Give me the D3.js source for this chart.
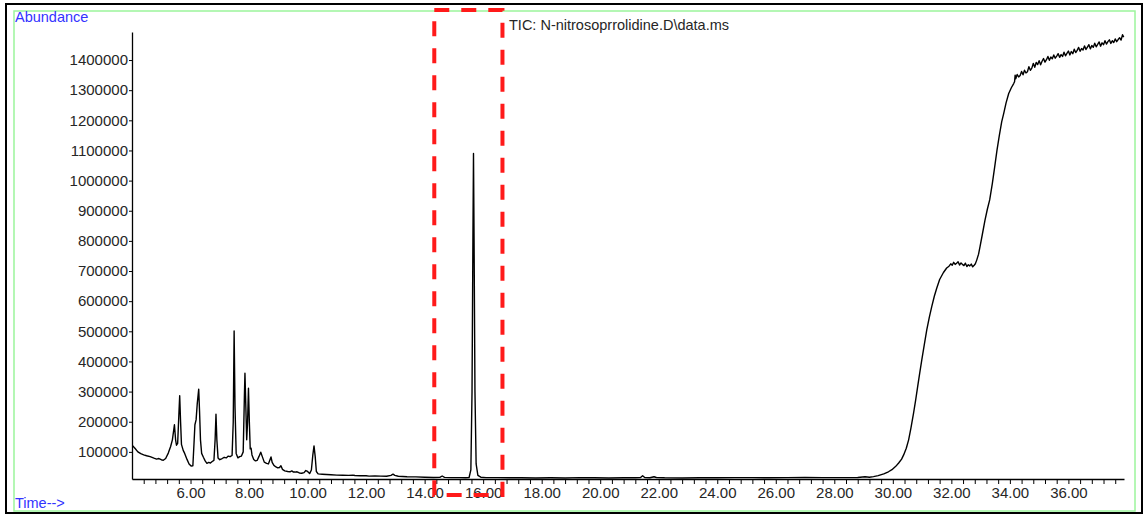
<!DOCTYPE html>
<html>
<head>
<meta charset="utf-8">
<script src="https://cdn.jsdelivr.net/npm/d3@7"></script>
<style>
  body { margin: 0; background: #fff; }
  svg text { font-family: "Liberation Sans", Arial, sans-serif; }
</style>
</head>
<body>
<div class="g-chart-container"></div>
<script>
// retention time (min) and abundance, up to the column bleed plateau
var times = [
  4.02, 4.10, 4.20, 4.30, 4.40, 4.50, 4.62, 4.75, 4.84, 4.92, 5.00, 5.07, 5.15, 5.24, 5.32, 5.38, 5.45, 5.49,
  5.52, 5.56, 5.60, 5.63, 5.66, 5.69, 5.75, 5.80, 5.88, 5.95, 6.02, 6.08, 6.12, 6.15, 6.19, 6.23, 6.28, 6.31,
  6.34, 6.38, 6.44, 6.50, 6.56, 6.62, 6.68, 6.74, 6.80, 6.84, 6.87, 6.90, 6.94, 7.00, 7.08, 7.15, 7.22, 7.29,
  7.35, 7.42, 7.46, 7.49, 7.52, 7.56, 7.62, 7.68, 7.74, 7.80, 7.84, 7.86, 7.89, 7.92, 7.95, 7.98, 8.01, 8.04,
  8.07, 8.10, 8.16, 8.22, 8.28, 8.34, 8.40, 8.45, 8.52, 8.60, 8.66, 8.70, 8.75, 8.79, 8.85, 8.92, 8.98, 9.04,
  9.09, 9.14, 9.22, 9.32, 9.40, 9.46, 9.52, 9.58, 9.64, 9.72, 9.80, 9.88, 9.94, 10.00, 10.07, 10.13, 10.18, 10.22,
  10.26, 10.30, 10.36, 10.50, 10.65, 10.80, 11.00, 11.20, 11.40, 11.55, 11.62, 11.80, 12.00, 12.10, 12.30, 12.50, 12.70, 12.85,
  12.92, 12.98, 13.10, 13.40, 13.70, 14.00, 14.30, 14.52, 14.60, 14.68, 14.90, 15.20, 15.40, 15.52, 15.58, 15.62, 15.65, 15.67,
  15.69, 15.72, 15.76, 15.82, 15.92, 16.10, 16.50, 16.90, 17.30, 17.80, 18.30, 18.80, 19.30, 19.80, 20.30, 20.80, 21.20, 21.38,
  21.45, 21.52, 21.70, 21.84, 21.92, 22.20, 22.80, 23.40, 24.00, 24.60, 25.20, 25.80, 26.40, 27.00, 27.60, 28.20, 28.80, 29.05,
  29.20, 29.34, 29.50, 29.69, 29.85, 29.97, 30.10, 30.20, 30.30, 30.37, 30.46, 30.54, 30.62, 30.71, 30.78, 30.85, 30.92, 30.99,
  31.08, 31.16, 31.25, 31.33, 31.42, 31.50, 31.60, 31.73, 31.84, 31.92, 31.98, 32.03, 32.08, 32.13, 32.18, 32.23, 32.28, 32.33,
  32.38, 32.43, 32.48, 32.53, 32.58, 32.63, 32.68, 32.73, 32.78, 32.82, 32.87, 32.93, 32.98, 33.06, 33.15, 33.23, 33.31, 33.40,
  33.48, 33.56, 33.64, 33.72, 33.79, 33.87, 33.96, 34.05, 34.13, 34.16, 34.18
];
var abundance = [
  120000, 112000, 100000, 94000, 90000, 87000, 84000, 79000, 76000, 78000, 74000, 72000, 78000, 96000, 118000, 140000, 190000, 140000,
  122000, 128000, 220000, 286000, 200000, 125000, 105000, 95000, 75000, 60000, 53000, 54000, 130000, 190000, 206000, 260000, 308000, 230000,
  140000, 95000, 82000, 70000, 62000, 65000, 63000, 68000, 72000, 140000, 225000, 140000, 80000, 74000, 78000, 82000, 80000, 86000,
  84000, 88000, 200000, 501000, 250000, 95000, 80000, 84000, 86000, 100000, 280000, 361000, 250000, 140000, 200000, 311000, 200000, 110000,
  112000, 90000, 75000, 70000, 72000, 85000, 99000, 85000, 66000, 62000, 60000, 70000, 83000, 65000, 55000, 50000, 47000, 48000,
  54000, 42000, 37000, 35000, 34000, 37000, 33000, 33000, 34000, 30000, 29000, 31000, 38000, 35000, 28000, 40000, 90000, 120000,
  85000, 35000, 27000, 26000, 25000, 24000, 23000, 22500, 22000, 23000, 21500, 21000, 21000, 19500, 20000, 19500, 19000, 22000,
  26000, 22000, 19000, 17500, 17000, 16000, 15000, 15500, 20000, 15500, 14500, 14500, 14000, 15000, 40000, 300000, 800000, 1090000,
  800000, 300000, 60000, 22000, 16000, 14500, 14500, 14000, 14000, 13500, 14000, 13500, 14500, 14000, 13500, 14000, 14000, 15000,
  21000, 15000, 14000, 17500, 15000, 14000, 13500, 14000, 14000, 14500, 14500, 14000, 14500, 15000, 14500, 14500, 15000, 17500,
  16000, 18000, 21000, 27000, 34000, 41000, 52000, 63000, 76000, 90000, 112000, 140000, 180000, 229000, 272000, 317000, 362000, 405000,
  458000, 505000, 548000, 582000, 617000, 643000, 672000, 695000, 710000, 716000, 724000, 719000, 729000, 722000, 726000, 731000, 720000, 727000,
  722000, 718000, 726000, 715000, 721000, 717000, 723000, 714000, 719000, 724000, 737000, 756000, 781000, 822000, 869000, 905000, 936000, 990000,
  1045000, 1101000, 1150000, 1195000, 1223000, 1258000, 1289000, 1308000, 1322000, 1328000, 1350000
];
// noisy high-temperature tail after the kink at 34.2 min
var tailTimes = [
  34.20, 34.25, 34.30, 34.35, 34.40, 34.45, 34.50, 34.55, 34.60, 34.65, 34.70, 34.75, 34.80, 34.85, 34.90,
  34.95, 35.00, 35.05, 35.10, 35.15, 35.20, 35.25, 35.30, 35.35, 35.40, 35.45, 35.50, 35.55, 35.60, 35.65,
  35.70, 35.75, 35.80, 35.85, 35.90, 35.95, 36.00, 36.05, 36.10, 36.15, 36.20, 36.25, 36.30, 36.35, 36.40,
  36.45, 36.50, 36.55, 36.60, 36.65, 36.70, 36.75, 36.80, 36.85, 36.90, 36.95, 37.00, 37.05, 37.10, 37.15,
  37.20, 37.25, 37.30, 37.35, 37.40, 37.45, 37.50, 37.55, 37.60, 37.65, 37.70, 37.75, 37.80, 37.85, 37.89
];
var tailAbundance = [
  1338000, 1352000, 1344000, 1349000, 1362000, 1351000, 1366000, 1357000, 1361000, 1378000, 1366000, 1373000, 1389000, 1376000, 1392000,
  1385000, 1398000, 1384000, 1396000, 1405000, 1393000, 1401000, 1412000, 1399000, 1410000, 1404000, 1417000, 1406000, 1413000, 1421000,
  1409000, 1418000, 1412000, 1426000, 1414000, 1422000, 1430000, 1417000, 1428000, 1421000, 1436000, 1425000, 1432000, 1442000, 1429000,
  1438000, 1433000, 1447000, 1435000, 1443000, 1451000, 1437000, 1448000, 1442000, 1456000, 1444000, 1452000, 1460000, 1446000, 1457000,
  1451000, 1464000, 1453000, 1461000, 1467000, 1455000, 1464000, 1458000, 1470000, 1461000, 1468000, 1474000, 1466000, 1484000, 1476000
];
var xMajorTicks = [6, 8, 10, 12, 14, 16, 18, 20, 22, 24, 26, 28, 30, 32, 34, 36];
var yTicks = [100000, 200000, 300000, 400000, 500000, 600000, 700000, 800000, 900000, 1000000, 1100000, 1200000, 1300000, 1400000];
var highlightRange = [14.33, 16.66]; // dashed box around the N-nitrosopyrrolidine peak

var width = 1146;
var height = 518;

var svg = d3.select(".g-chart-container")
  .append("svg")
  .attr("width", width)
  .attr("height", height);

// frame: black outer, light green inner
svg.append("rect")
  .attr("x", 6).attr("y", 4).attr("width", 1136).attr("height", 509)
  .style("fill", "none").style("stroke", "#000").style("stroke-width", 2);
svg.append("rect")
  .attr("x", 14).attr("y", 11).attr("width", 1121).attr("height", 500)
  .style("fill", "none").style("stroke", "#9cf59c").style("stroke-width", 1.5);

var x = d3.scaleLinear().domain([4.0, 37.9]).range([132, 1124]);
var y = d3.scaleLinear().domain([10000, 1493000]).range([479, 32]);

// minor ticks every 0.4 min, labels only on the even minutes
var xTicks = d3.range(4.4, 37.7, 0.4).map(function(d){ return Math.round(d * 10) / 10; });

var xAxis = svg.append("g")
  .attr("transform", "translate(0,479)")
  .call(d3.axisBottom(x)
    .tickValues(xTicks)
    .tickSize(5)
    .tickSizeOuter(0)
    .tickPadding(3)
    .tickFormat(function(d){
      return xMajorTicks.indexOf(d) > -1 ? d.toFixed(2) : "";
    }));

var yAxis = svg.append("g")
  .attr("transform", "translate(132,0)")
  .call(d3.axisLeft(y)
    .tickValues(yTicks)
    .tickSize(3)
    .tickSizeOuter(0)
    .tickPadding(1)
    .tickFormat(d3.format("d")));

svg.selectAll(".tick text")
  .style("font-size", "15px")
  .style("fill", "#262626");
svg.selectAll(".domain").style("stroke", "#000").style("stroke-width", 1.3);
svg.selectAll(".tick line").style("stroke", "#000");

// TIC trace
var points = times.concat(tailTimes).map(function(t, i){
  return [t, abundance.concat(tailAbundance)[i]];
});
var line = d3.line()
  .x(function(d){ return x(d[0]); })
  .y(function(d){ return y(d[1]); });

svg.append("path")
  .datum(points)
  .attr("d", line)
  .style("fill", "none")
  .style("stroke", "#000")
  .style("stroke-width", 1.4)
  .style("stroke-linejoin", "round");

// labels
svg.append("text")
  .attr("x", 15).attr("y", 22)
  .style("font-size", "14.5px").style("fill", "#3333ff")
  .text("Abundance");
svg.append("text")
  .attr("x", 15).attr("y", 508)
  .style("font-size", "14.5px").style("fill", "#3333ff")
  .text("Time-->");
svg.append("text")
  .attr("x", 509).attr("y", 30)
  .style("font-size", "14.5px").style("fill", "#262626")
  .text("TIC: N-nitrosoprrolidine.D\\data.ms");

// red dashed annotation box
svg.append("rect")
  .attr("x", x(highlightRange[0]))
  .attr("y", 10)
  .attr("width", x(highlightRange[1]) - x(highlightRange[0]))
  .attr("height", 485)
  .style("fill", "none")
  .style("stroke", "#ff1a1a")
  .style("stroke-width", 4)
  .style("stroke-dasharray", "15,12");
</script>
</body>
</html>
